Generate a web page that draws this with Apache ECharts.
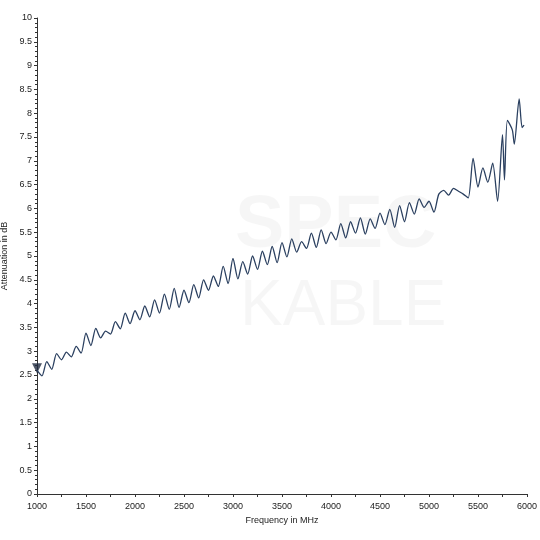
<!DOCTYPE html><html><head><meta charset="utf-8"><script src="https://cdn.jsdelivr.net/npm/echarts@6/dist/echarts.min.js"></script>
<style>html,body{margin:0;background:#fff}#c{width:540px;height:540px}</style></head><body><div id="c"></div><script>
const freq=[1000,1050,1100,1150,1200,1250,1300,1350,1400,1450,1500,1550,1600,1650,1700,1750,1800,1850,1900,1950,2000,2050,2100,2150,2200,2250,2300,2350,2400,2450,2500,2550,2600,2650,2700,2750,2800,2850,2900,2950,3000,3050,3100,3150,3200,3250,3300,3350,3400,3450,3500,3550,3600,3650,3700,3750,3800,3850,3900,3950,4000,4050,4100,4150,4200,4250,4300,4350,4400,4450,4500,4550,4600,4650,4700,4750,4800,4850,4900,4950,5000,5050,5100,5150,5200,5250,5300,5350,5400,5450,5500,5550,5600,5650,5700,5750,5770,5800,5850,5870,5920,5950,5970];
const atten=[2.6,2.48,2.78,2.62,2.95,2.82,2.98,2.88,3.1,2.96,3.38,3.12,3.48,3.28,3.42,3.36,3.62,3.47,3.8,3.58,3.85,3.66,3.95,3.72,4.08,3.8,4.2,3.88,4.32,3.92,4.28,4.02,4.4,4.12,4.5,4.28,4.58,4.36,4.78,4.42,4.95,4.52,4.88,4.62,5.0,4.72,5.1,4.82,5.2,4.86,5.28,4.98,5.36,5.08,5.3,5.16,5.48,5.18,5.55,5.26,5.5,5.34,5.68,5.38,5.72,5.48,5.8,5.46,5.78,5.58,5.9,5.66,5.98,5.6,6.06,5.72,6.12,5.88,6.2,6.02,6.15,5.92,6.3,6.38,6.28,6.42,6.36,6.3,6.22,7.05,6.45,6.85,6.55,6.95,6.15,7.55,6.6,7.85,7.65,7.35,8.3,7.7,7.75];
const markerX=[1000],markerY=[2.6];
const ch=echarts.init(document.getElementById('c'));
const font='Liberation Sans';
ch.setOption({animation:false,
graphic:[{type:'text',left:235,top:190,style:{text:'SPEC',font:'bold 74px Liberation Sans',fill:'rgba(0,0,0,0.035)'}},
{type:'text',left:240,top:275,style:{text:'KABLE',font:'64px Liberation Sans',fill:'rgba(0,0,0,0.035)'}}],
grid:{left:37,right:13,top:18,bottom:46,containLabel:false,outerBoundsMode:'none'},
xAxis:{type:'value',min:1000,max:6000,interval:500,name:'Frequency in MHz',nameLocation:'middle',nameGap:22,nameTextStyle:{fontFamily:font,fontSize:9,color:'#222'},
axisLine:{lineStyle:{color:'#333'}},axisTick:{length:3,lineStyle:{color:'#333'}},minorTick:{show:true,splitNumber:2,length:3,lineStyle:{color:'#333'}},
axisLabel:{fontFamily:font,fontSize:9,color:'#222',formatter:v=>String(v)},splitLine:{show:false}},
yAxis:{type:'value',min:0,max:10,interval:0.5,name:'Attenuation in dB',nameLocation:'middle',nameGap:24,nameTextStyle:{fontFamily:font,fontSize:9,color:'#222'},
axisLine:{show:true,lineStyle:{color:'#333'}},axisTick:{show:true,length:3,lineStyle:{color:'#333'}},minorTick:{show:true,splitNumber:5,length:2,lineStyle:{color:'#333'}},
axisLabel:{fontFamily:font,fontSize:9,color:'#222',margin:5,formatter:v=>String(v)},splitLine:{show:false}},
series:[{type:'line',data:freq.map((f,i)=>[f,atten[i]]),smooth:0.25,symbol:'none',lineStyle:{color:'#2b4060',width:1.3}},
{type:'scatter',data:markerX.map((f,i)=>[f,markerY[i]]),symbol:'triangle',symbolRotate:180,symbolSize:10,symbolOffset:[0,-2],itemStyle:{color:'#1f2b40'}}]});
</script></body></html>
